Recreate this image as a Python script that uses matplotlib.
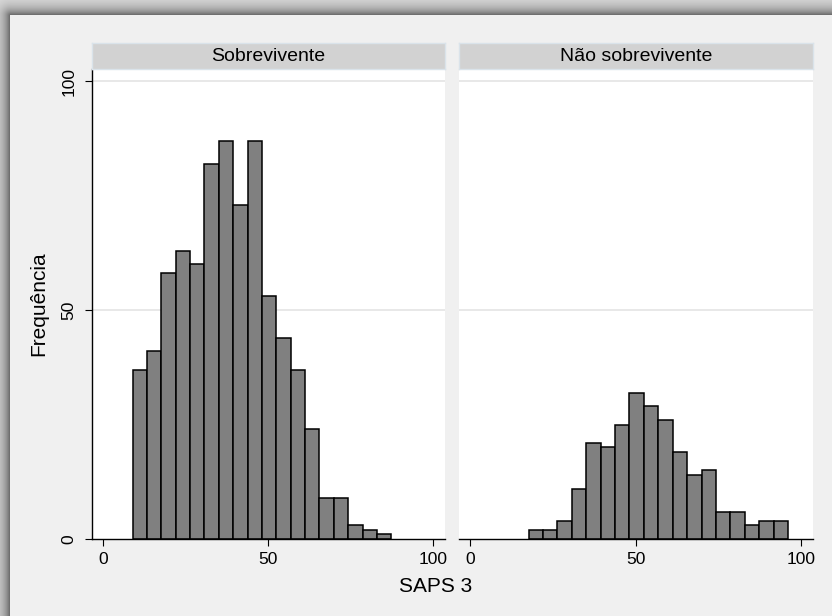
import numpy as np
import matplotlib
matplotlib.use('Agg')
import matplotlib.pyplot as plt

plt.rcParams['font.family'] = ['Liberation Sans', 'DejaVu Sans']

# histogram bins shared by both groups
bin_start = 9.0
bin_width = 4.35
n_bins = 20

groups = ['Sobrevivente', 'Não sobrevivente']
freq_surv = [37, 41, 58, 63, 60, 82, 87, 73, 87, 53, 44, 37, 24, 9, 9, 3, 2, 1, 0, 0]
freq_dead = [0, 0, 2, 2, 4, 11, 21, 20, 25, 32, 29, 26, 19, 14, 15, 6, 6, 3, 4, 4]
x_ticks = [0, 50, 100]
y_ticks = [0, 50, 100]

W, H = 832, 616
fig = plt.figure(figsize=(W / 100, H / 100), dpi=100)

# page background with soft shadow along top and left edges
yy, xx = np.mgrid[0:H, 0:W]
dx = np.clip(10 - xx, 0, None)
dy = np.clip(15 - yy, 0, None)
d = np.sqrt(dx ** 2 + dy ** 2)
shade = np.where(d > 0, 226 - 130 * np.exp(-d / 8.0), 240) / 255.0
bg = fig.add_axes([0, 0, 1, 1])
bg.imshow(np.dstack([shade] * 3), extent=[0, 1, 0, 1], aspect='auto',
          interpolation='bilinear')
bg.axis('off')
bg.set_zorder(-5)


def fx(px):
    return px / W


def fy(py):
    return 1 - py / H


plot_top, plot_bot = 69.3, 539
strip_top = 43.3
panels = [(92, 444.5), (459, 812.5)]
edges = bin_start + bin_width * np.arange(n_bins)

for i, (name, freq) in enumerate(zip(groups, [freq_surv, freq_dead])):
    x0, x1 = panels[i]
    ax = fig.add_axes([fx(x0), fy(plot_bot), fx(x1) - fx(x0), fy(plot_top) - fy(plot_bot)])
    ax.set_facecolor('white')
    for g in [50, 100]:
        ax.axhline(g, color='#e6e6e6', lw=1.3, zorder=0)
    freq = np.array(freq)
    keep = freq > 0
    ax.bar(edges[keep], freq[keep], width=bin_width, align='edge', color='#808080',
           edgecolor='black', linewidth=1.1, zorder=2)
    ax.set_xlim(-3.3, 103.4)
    ax.set_ylim(0, 102.6)
    ax.set_xticks(x_ticks)
    ax.tick_params(axis='x', length=5, width=0.8, pad=4, labelsize=12.5)
    for s in ['top', 'right']:
        ax.spines[s].set_visible(False)
    ax.spines['bottom'].set_linewidth(1.0)
    ax.spines['bottom'].set_zorder(3)
    if i == 0:
        ax.set_yticks(y_ticks)
        ax.tick_params(axis='y', length=5, width=0.8, pad=6, labelsize=12.5)
        plt.setp(ax.get_yticklabels(), rotation=90, va='center')
        ax.spines['left'].set_linewidth(1.0)
    else:
        ax.set_yticks([])
        ax.spines['left'].set_visible(False)

    # panel header strip
    st = fig.add_axes([fx(x0), fy(plot_top), fx(x1) - fx(x0), fy(strip_top) - fy(plot_top)])
    st.set_facecolor('#d2d2d2')
    st.set_xticks([])
    st.set_yticks([])
    for s in st.spines.values():
        s.set_color('#dae3ea')
        s.set_linewidth(1.0)
    st.text(0.5, 0.5, name, ha='center', va='center', fontsize=14,
            transform=st.transAxes)

fig.text(fx(436), fy(587), 'SAPS 3', ha='center', va='center', fontsize=15)
fig.text(fx(39), fy(304), 'Frequência', ha='center', va='center',
         rotation=90, fontsize=15)

fig.savefig('out.png', dpi=100)
